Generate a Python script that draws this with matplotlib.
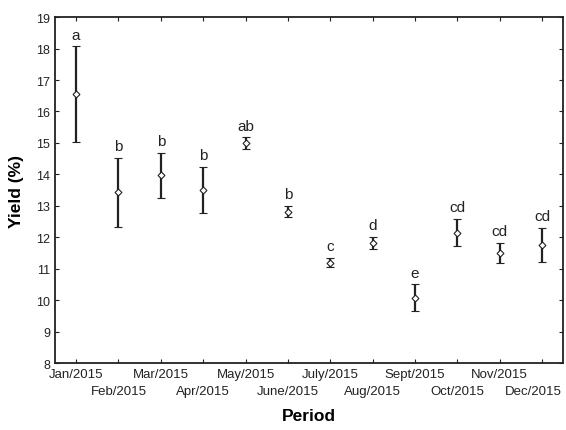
import numpy as np
import matplotlib.pyplot as plt
import matplotlib.transforms as mtransforms

plt.rcParams['font.family'] = ['Liberation Sans', 'DejaVu Sans']

# data
periods = ["Jan/2015", "Feb/2015", "Mar/2015", "Apr/2015", "May/2015", "June/2015",
           "July/2015", "Aug/2015", "Sept/2015", "Oct/2015", "Nov/2015", "Dec/2015"]
yield_mean = [16.55, 13.43, 13.97, 13.50, 15.00, 12.82, 11.20, 11.82, 10.08, 12.15, 11.50, 11.76]
yield_err = [1.52, 1.10, 0.72, 0.73, 0.18, 0.17, 0.15, 0.20, 0.43, 0.44, 0.33, 0.55]
letters = ["a", "b", "b", "b", "ab", "b", "c", "d", "e", "cd", "cd", "cd"]

fig = plt.figure(figsize=(5.66, 4.31), dpi=100)
ax = fig.add_axes([0.097, 0.155, 0.898, 0.803])

x = np.arange(len(periods))
ax.errorbar(x, yield_mean, yerr=yield_err, fmt='D', markersize=3.5,
            markerfacecolor='white', markeredgecolor='#222222', markeredgewidth=0.8,
            ecolor='#222222', elinewidth=1.6, capsize=3, capthick=1.4)

for xi, m, e, lab in zip(x, yield_mean, yield_err, letters):
    ax.text(xi, m + e + 0.15, lab, ha='center', va='bottom', fontsize=11, color='#222222')

ax.set_xlim(-0.5, 11.5)
ax.set_ylim(8, 19)
ax.set_yticks(range(8, 20))
ax.set_xticks(x)
ax.set_xticklabels(periods)
ax.tick_params(direction='in', top=True, right=True, labelsize=9.5, colors='#222222', length=3)
ax.tick_params(axis='y', labelsize=9)

# stagger the month labels on two rows
for i, t in enumerate(ax.xaxis.get_major_ticks()):
    t.set_pad(3.5 if i % 2 == 0 else 15.5)
# last label sits a little left so it fits in the figure
last = ax.get_xticklabels()[-1]
last.set_transform(last.get_transform() + mtransforms.ScaledTranslation(-9 / 100, 0, fig.dpi_scale_trans))

for s in ax.spines.values():
    s.set_linewidth(1.3)
    s.set_color('#222222')

ax.set_xlabel("Period", fontsize=12.5, fontweight='bold', labelpad=8)
ax.set_ylabel("Yield (%)", fontsize=12.5, fontweight='bold', labelpad=9)

fig.savefig("out.png", dpi=100)
